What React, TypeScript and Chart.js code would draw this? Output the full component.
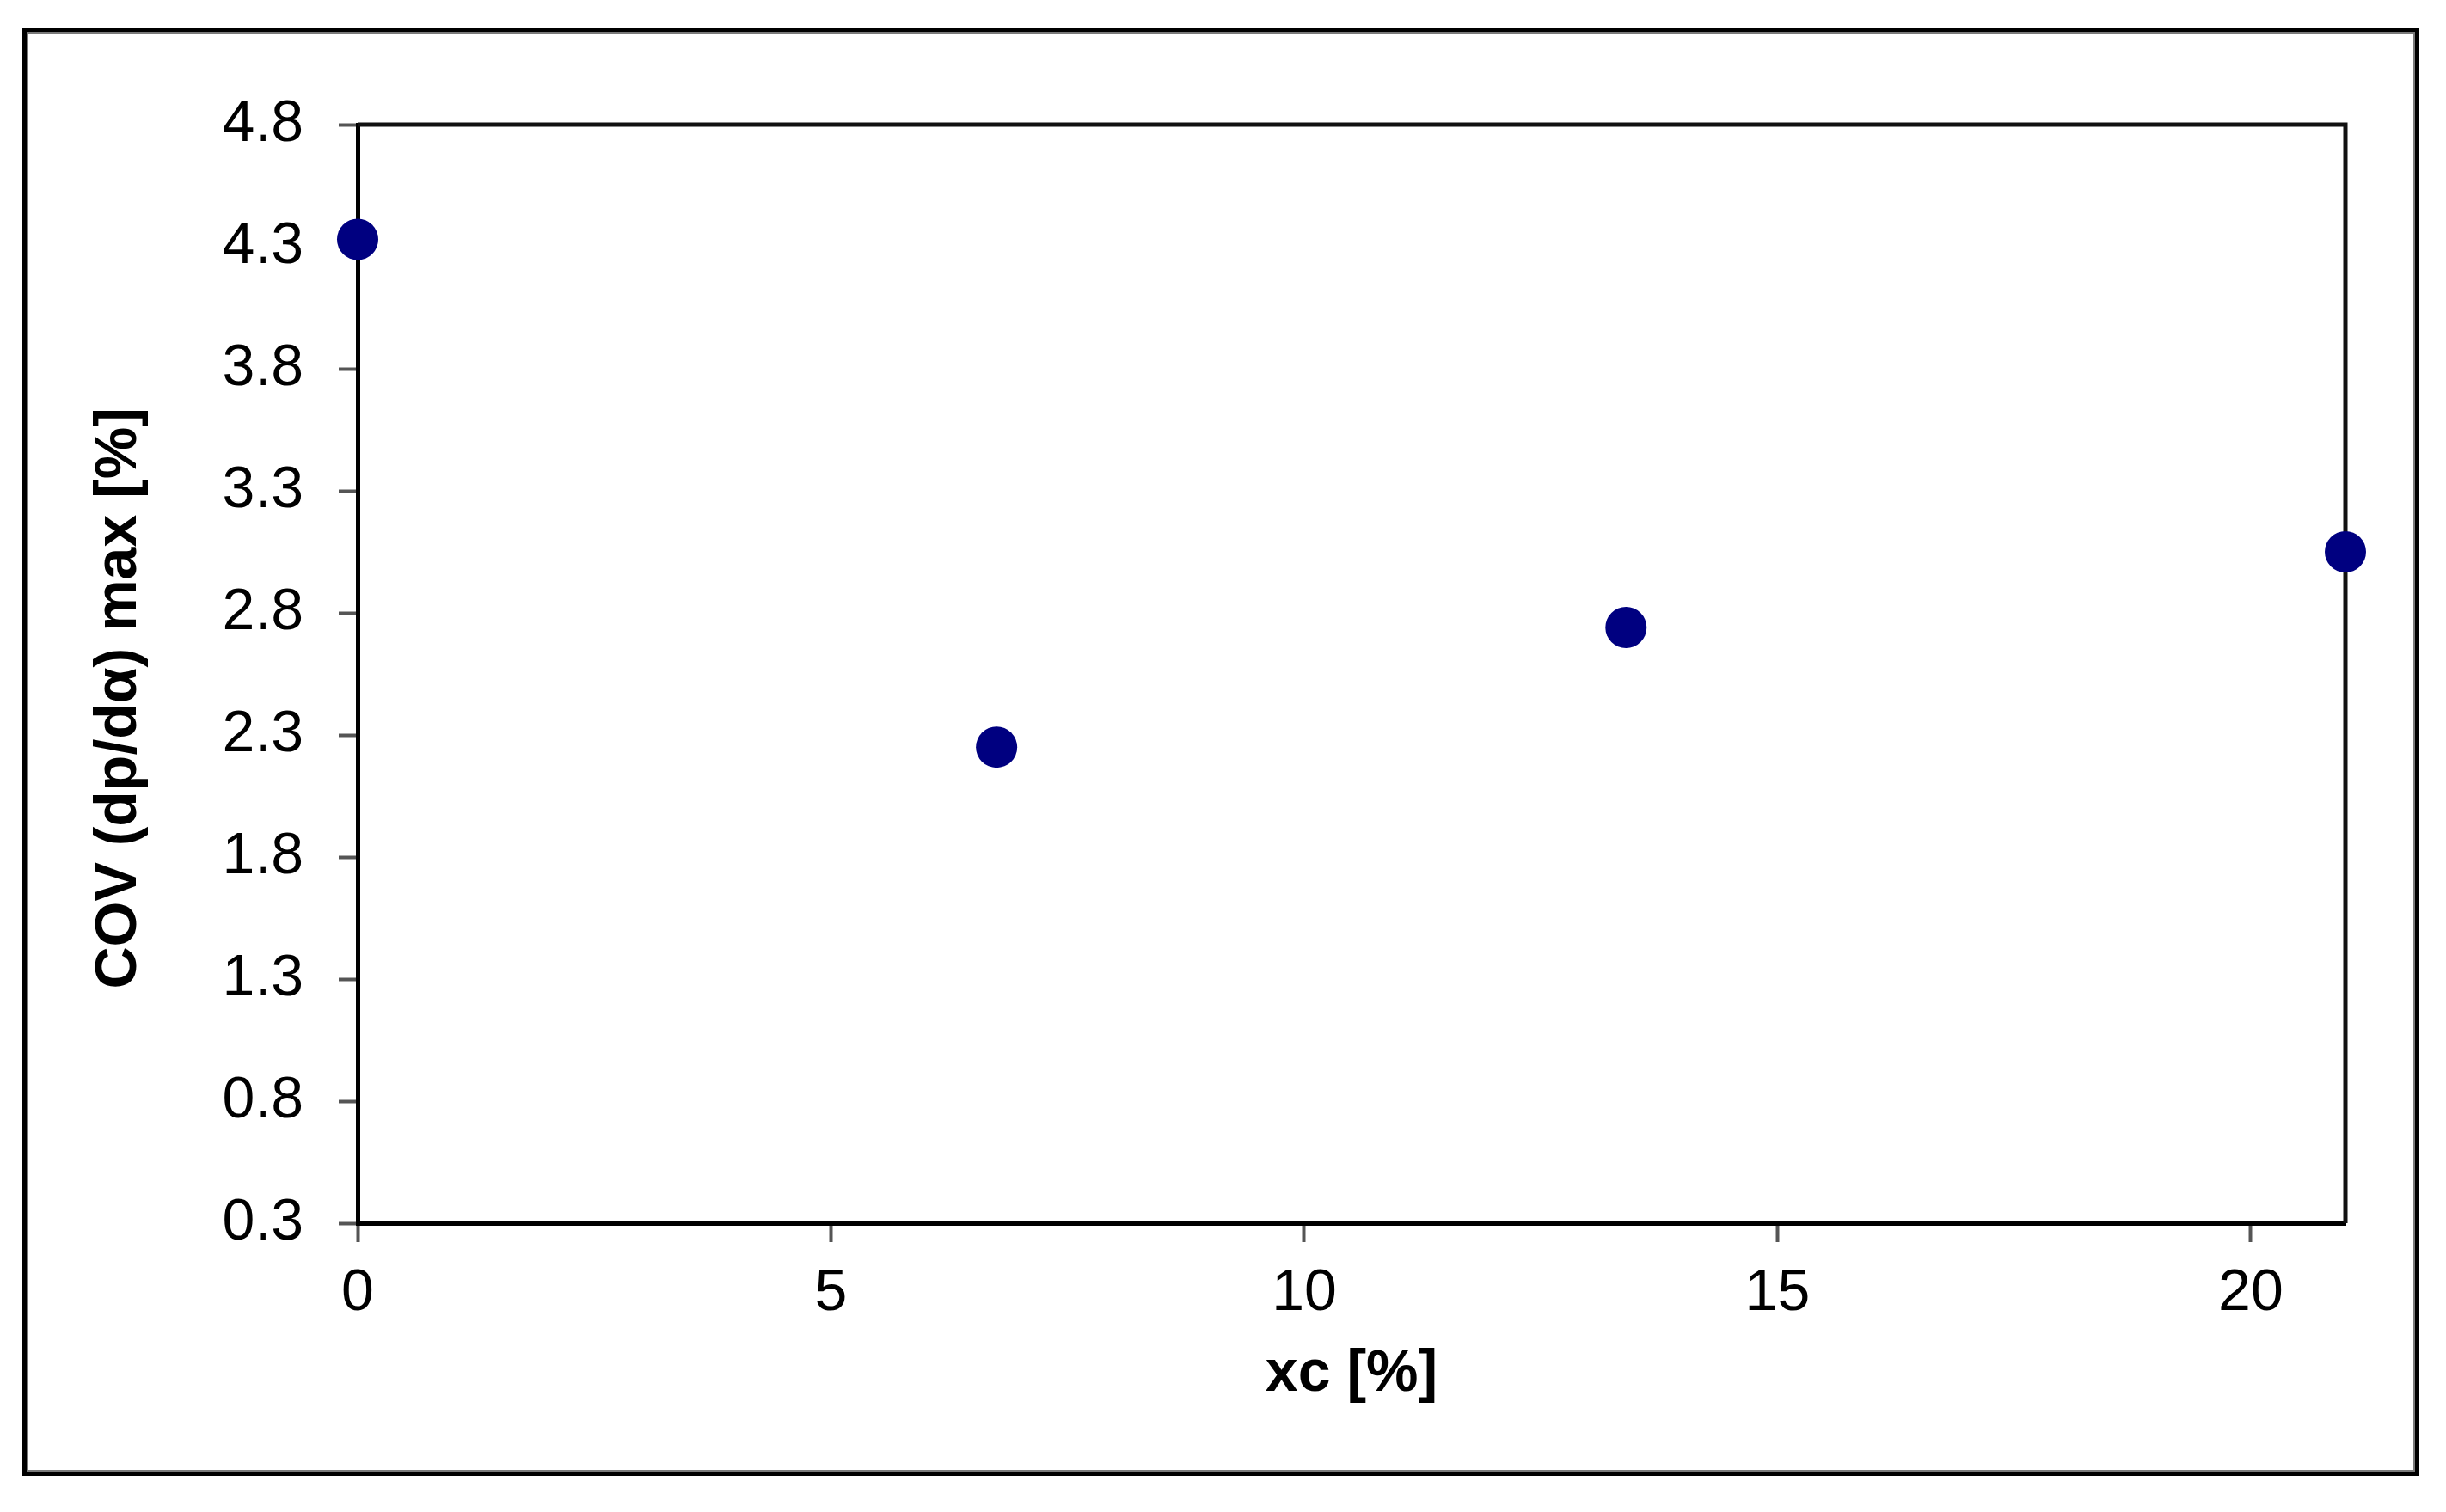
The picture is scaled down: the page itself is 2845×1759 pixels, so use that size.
import React, { useEffect, useRef } from "react";
import { Chart, registerables } from "chart.js";

Chart.register(...registerables);

// ---- data ----
const xValues = [0, 6.75, 13.4, 21];
const yValues = [4.33, 2.25, 2.74, 3.05];

const xTitle = "xc [%]";
const yTitle = "COV (dp/dα) max [%]   ";

const xMin = 0;
const xMax = 21;
const xStep = 5;
const yMin = 0.3;
const yMax = 4.8;
const yStep = 0.5;

const FONT = "'Liberation Sans', Arial, Helvetica, sans-serif";
const CANVAS_W = 2829;
const CANVAS_H = 1740;

export default function App() {
  const ref = useRef<HTMLCanvasElement | null>(null);

  useEffect(() => {
    if (!ref.current) return;
    const plotFrame = {
      id: "plotFrame",
      beforeDatasetsDraw(chart: any) {
        const { ctx, chartArea } = chart;
        ctx.save();
        ctx.strokeStyle = "#111";
        ctx.lineWidth = 5;
        ctx.beginPath();
        ctx.moveTo(chartArea.left, chartArea.top);
        ctx.lineTo(chartArea.right, chartArea.top);
        ctx.lineTo(chartArea.right, chartArea.bottom);
        ctx.stroke();
        ctx.restore();
      },
    };

    const chart = new Chart(ref.current, {
      type: "scatter",
      data: {
        datasets: [
          {
            label: "COV",
            data: xValues.map((x, i) => ({ x, y: yValues[i] })),
            backgroundColor: "#000080",
            borderColor: "#000080",
            borderWidth: 0,
            pointRadius: 24,
            pointHoverRadius: 24,
            clip: false as any,
          },
        ],
      },
      options: {
        animation: false,
        responsive: false,
        maintainAspectRatio: false,
        devicePixelRatio: 1,
        events: [],
        layout: { padding: { left: 0, top: 137, right: 109, bottom: 0 } },
        plugins: {
          legend: { display: false },
          tooltip: { enabled: false },
        },
        scales: {
          x: {
            type: "linear",
            position: "bottom",
            min: xMin,
            max: xMax,
            ticks: {
              stepSize: xStep,
              includeBounds: false,
              maxRotation: 0,
              padding: 19,
              color: "#000",
              font: { family: FONT, size: 68 },
            },
            grid: {
              display: true,
              drawOnChartArea: false,
              drawTicks: true,
              tickLength: 22,
              tickWidth: 4,
              tickColor: "#555",
            },
            border: { display: true, width: 5, color: "#000" },
            title: {
              display: true,
              text: xTitle,
              color: "#000",
              font: { family: FONT, size: 68, weight: "bold" },
              padding: { top: 0, bottom: 108 },
            },
            afterFit: (s: any) => {
              s.height = 325;
            },
          },
          y: {
            type: "linear",
            min: yMin,
            max: yMax,
            ticks: {
              stepSize: yStep,
              padding: 41,
              color: "#000",
              font: { family: FONT, size: 68 },
              callback: (v: any) => Number(v).toFixed(1),
            },
            grid: {
              display: true,
              drawOnChartArea: false,
              drawTicks: true,
              tickLength: 22,
              tickWidth: 4,
              tickColor: "#555",
            },
            border: { display: true, width: 5, color: "#000" },
            title: {
              display: true,
              text: yTitle,
              color: "#000",
              font: { family: FONT, size: 68, weight: "bold" },
              padding: { top: 90, bottom: 0 },
            },
            afterFit: (s: any) => {
              s.width = 408;
            },
          },
        },
      },
      plugins: [plotFrame],
    });
    return () => chart.destroy();
  }, []);

  return (
    <div style={{ position: "relative", width: CANVAS_W, height: CANVAS_H, background: "#fff" }}>
      <div
        style={{
          position: "absolute",
          left: 18,
          top: 24,
          width: 2788,
          height: 1685,
          boxSizing: "border-box",
          border: "5px solid #000",
          boxShadow: "inset 0 0 0 2px #7a7a7a",
        }}
      />
      <canvas
        ref={ref}
        width={CANVAS_W}
        height={CANVAS_H}
        style={{ position: "absolute", left: 0, top: 0, display: "block" }}
      />
    </div>
  );
}
